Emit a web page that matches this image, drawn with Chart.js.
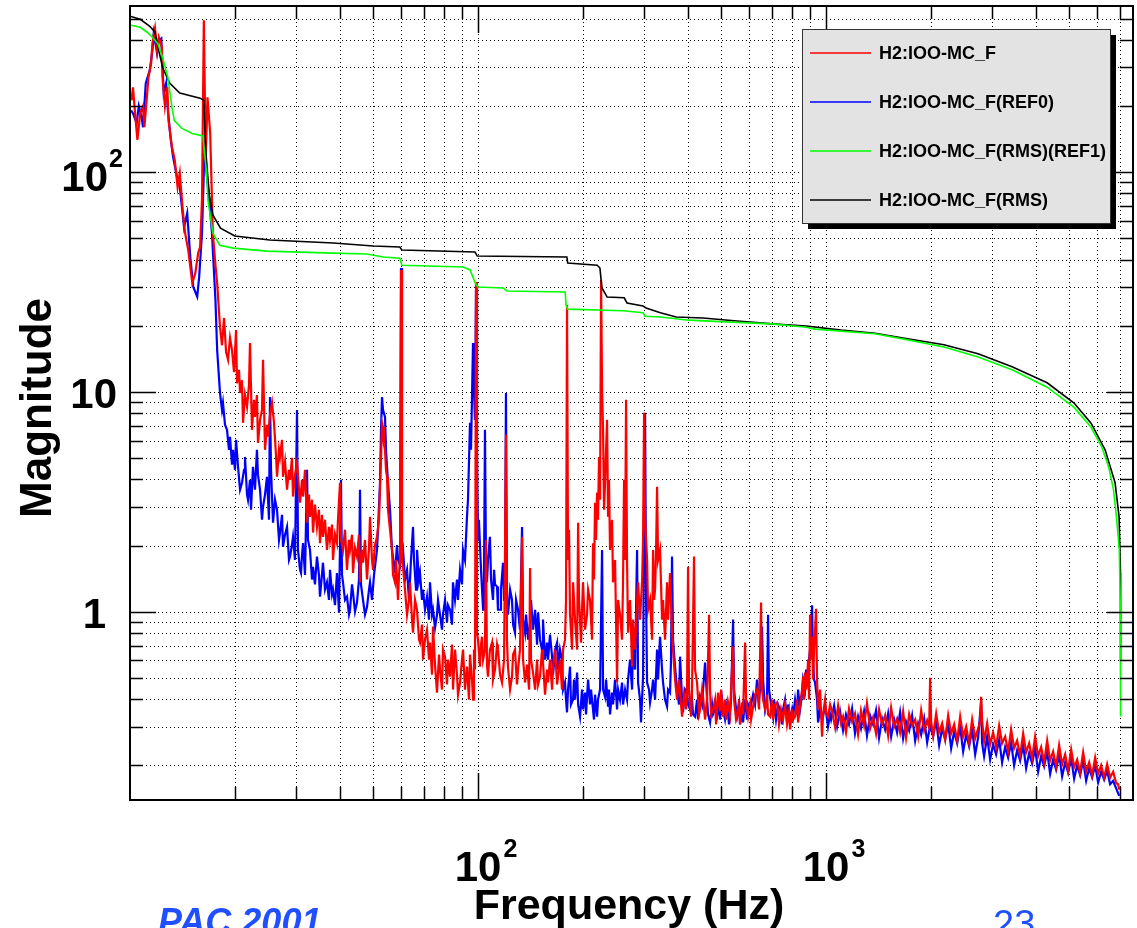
<!DOCTYPE html>
<html>
<head>
<meta charset="utf-8">
<script src="https://cdn.jsdelivr.net/npm/chart.js@4.4.1/dist/chart.umd.min.js"></script>
<style>
  html, body { margin: 0; padding: 0; background: #fff; }
  #wrap { width: 1137px; height: 928px; }
</style>
</head>
<body>
<div id="wrap"><canvas id="mag" width="1137" height="928"></canvas></div>
<script>
// series labels (legend order)
const seriesNames = ['H2:IOO-MC_F', 'H2:IOO-MC_F(REF0)', 'H2:IOO-MC_F(RMS)(REF1)', 'H2:IOO-MC_F(RMS)'];

// [frequency Hz, magnitude]
const redSpectrum = [
  [10.1,212],[10.2,243],[10.3,200],[10.5,140],[10.7,185],[10.9,200],[11.0,160],[11.3,270],[11.5,313],[11.6,386],
  [11.8,451],[11.96,359],[12.1,411],[12.35,370],[12.4,270],[12.6,200],[12.8,243],[12.9,172],[13.2,130],[13.45,113],
  [13.7,85.5],[13.9,99],[14.2,65],[14.4,52.8],[14.7,44.2],[15.1,31.3],[15.4,34.7],[15.7,42.8],[15.9,45.6],[16.1,74.6],
  [16.3,491],[16.5,113],[16.7,219],[17.0,150],[17.3,52.8],[17.6,37.8],[17.8,31.3],
  [18.14,19.7],[18.38,16.3],[18.63,21.7],[18.88,15.2],[19.13,14.0],[19.38,17.6],[19.64,15.5],[19.90,12.3],[20.17,19.1],[20.30,10.95],
  [20.57,12.6],[20.71,9.88],[20.98,11.3],[21.12,7.23],[21.40,9.68],[21.69,8.55],[21.97,10.7],[22.12,16.7],[22.41,6.72],[22.71,9.2],
  [22.86,7.69],[23.16,9.68],[23.32,5.86],[23.64,7.46],[23.95,8.28],[24.11,14.0],[24.43,5.45],[24.75,7.08],[24.92,6.25],[25.25,7.86],
  [25.59,8.92],[25.93,7.23],[26.27,5.17],[26.45,4.11],[26.80,5.45],[26.98,5.06],[27.34,6.05],[27.52,4.11],[27.89,4.81],[28.26,3.59],
  [28.63,4.42],[28.82,3.98],[29.20,5.01],[29.40,3.34],[29.79,4.19],[30.19,4.76],[30.59,3.59],[30.80,3.13],[31.21,3.98],[31.42,3.34],
  [31.83,4.42],[32.26,2.54],[32.68,3.41],[32.90,2.70],[33.34,3.23],[33.56,2.29],[34.00,3.07],[34.45,2.43],[34.91,2.91],[35.15,2.05],
  [35.61,2.76],[35.85,2.19],[36.33,2.62],[36.81,1.91],[37.30,2.43],[37.56,2.12],[38.06,2.49],[38.31,1.72],[38.82,2.24],[39.33,2.05],
  [39.59,2.62],[40.13,3.86],[40.39,2.12],[40.93,1.91],[41.47,2.36],[42.02,1.55],[42.58,2.12],[42.87,1.91],[43.44,2.24],[43.73,1.50],
  [44.31,1.95],[44.90,1.78],[45.49,2.24],[45.80,1.36],[46.41,1.91],[46.72,1.67],[47.34,2.12],[47.97,1.40],[48.61,1.95],[48.94,2.70],
  [49.59,1.72],[49.92,1.55],[50.58,2.01],[51.25,2.19],[51.93,2.62],[52.28,3.59],[52.63,4.91],[52.98,7.23],[53.33,6.93],[53.68,5.74],
  [54.04,5.45],[54.40,4.42],[54.76,4.11],[55.12,2.91],[55.86,2.36],[56.60,1.91],[56.98,1.47],[57.73,1.36],[58.12,1.72],[58.89,1.13],
  [59.28,1.47],[59.68,1.72],[60.08,35.9],[60.47,1.72],
  [60.88,1.60],[61.69,1.26],[62.51,0.968],[63.34,1.13],[63.76,1.36],[64.61,0.92],[65.04,0.802],[65.90,1.13],[66.78,1.02],[67.67,0.746],
  [68.12,0.723],[69.03,0.873],[69.49,0.605],[70.41,0.746],[71.35,0.828],[72.30,0.605],[72.78,0.723],[73.75,0.517],[74.24,0.855],[75.23,0.574],
  [76.23,0.428],[77.25,0.638],[77.76,0.545],[78.79,0.442],[79.31,0.672],[80.37,0.624],[81.44,0.466],[81.98,0.605],[83.08,0.506],[84.18,0.708],
  [84.74,0.442],[85.87,0.672],[87.01,0.517],[87.59,0.419],[88.76,0.476],[89.94,0.605],[90.54,0.672],[91.74,0.442],[92.96,0.562],[94.20,0.398],
  [94.83,0.638],[96.09,0.491],[96.73,0.398],[97.37,0.672],[98.02,0.545],[98.67,31.6],[99.32,0.802],
  [100.0,0.746],[101.3,0.562],[102.0,0.708],[102.7,0.769],[103.4,0.605],[104.7,0.672],[105.4,2.12],[106.1,0.574],[106.8,0.506],[108.2,0.672],
  [109.7,0.723],[110.4,0.491],[111.9,0.545],[113.4,0.708],[114.1,0.672],[115.7,0.517],[117.2,0.476],[118.8,0.605],[120.3,6.38],[121.1,0.746],
  [121.9,0.562],[123.6,0.442],[125.2,0.506],[126.1,0.638],[127.7,0.672],[129.4,0.466],[130.3,0.545],[132.0,0.672],[133.8,2.19],[134.7,0.605],
  [136.5,0.476],[138.3,0.574],[140.2,0.442],[141.1,1.58],[142.0,0.605],[143.9,0.528],[145.9,0.442],[147.8,0.605],[148.8,0.466],[150.7,0.506],
  [152.7,0.672],[153.7,0.586],[155.8,0.419],[157.9,0.545],[158.9,0.476],[161.0,0.605],[163.2,0.442],[164.3,0.562],[166.5,0.672],[168.7,0.466],
  [169.8,0.506],[172.0,0.605],[174.3,0.442],[175.5,0.672],[177.8,0.746],[179.0,1.13],[180.2,24.9],[181.4,1.72],[182.6,2.36],[183.8,0.968],
  [186.3,0.672],[187.5,1.36],[190.0,0.92],[192.6,0.672],[193.9,2.54],[195.1,1.13],[197.7,0.723],[199.0,1.02],[200.3,1.36],[203.0,0.828],
  [205.7,0.968],[207.1,1.26],[209.8,1.13],[212.6,0.746],[214.0,2.05],[215.4,1.40],[216.9,3.13],[218.3,2.12],[219.8,3.48],[221.2,2.62],
  [222.7,5.06],[224.2,3.23],[225.7,32.3],[227.2,10.2],[228.7,6.72],[230.2,2.91],[231.7,3.86],[233.3,5.45],[234.8,7.46],[236.4,2.70],
  [237.9,3.98],[239.5,1.91],[242.7,2.62],[244.3,1.36],[247.6,1.72],[250.9,0.476],[252.6,1.13],[255.9,0.968],[259.3,0.746],[261.0,1.36],
  [262.8,3.98],[264.5,1.72],[266.3,9.2],[268.0,1.72],[269.8,0.802],[273.4,1.13],[277.1,0.562],[278.9,0.92],[282.6,0.672],[286.4,1.13],
  [288.3,1.36],[292.1,0.92],[296.0,1.36],[298.0,2.12],[300.0,8.03],[302.0,2.62],[306.0,1.72],[308.0,1.02],[312.1,1.13],[316.3,0.746],
  [318.4,1.91],[320.5,1.13],[322.6,1.26],[324.8,1.91],[326.9,3.70],[329.1,1.72],[333.4,1.91],[337.9,0.92],[340.1,1.13],[344.6,0.746],
  [349.2,1.36],[351.6,0.92],[356.2,1.50],[360.9,0.828],[363.4,0.672],[368.2,0.491],[373.1,0.398],[378.0,0.491],[383.1,0.378],[385.7,0.333],
  [390.8,0.419],[396.0,0.359],[398.6,0.428],[401.3,1.60],[403.9,0.442],[409.3,0.333],[412.0,0.442],[417.5,1.78],[420.3,0.545],[425.9,0.476],
  [431.6,0.341],[434.5,0.359],[440.3,0.442],[443.2,0.41],[449.1,0.323],[455.1,0.398],[461.1,0.968],[464.2,0.442],[467.3,0.341],[473.5,0.359],
  [479.8,0.398],[483.0,0.307],[489.4,0.428],[495.9,0.352],[499.2,0.442],[505.9,0.333],[512.6,0.398],[516.0,0.323],[522.9,0.386],[529.9,0.341],
  [533.4,0.442],[540.5,0.694],[544.1,0.398],[551.4,0.323],[555.0,0.333],[562.4,0.398],[566.1,0.307],[573.7,0.386],[577.5,0.341],[585.2,0.723],
  [589.1,0.398],[597.0,0.333],[604.8,0.378],[608.9,0.323],[617.0,0.37],[625.2,0.419],[633.5,0.442],[642.0,0.359],[650.5,1.10],[654.8,0.442],
  [659.2,0.398],[668.0,0.359],[676.8,0.419],[681.3,0.341],[690.4,0.333],[699.6,0.398],[704.2,0.323],[713.6,0.378],[723.1,0.386],[732.7,0.307],
  [742.5,0.359],[752.4,0.323],[762.4,0.378],[772.5,0.307],[782.9,0.352],[788.1,0.291],[798.6,0.359],[803.9,0.323],[814.6,0.333],[825.4,0.398],
  [830.9,0.313],[842.0,0.378],[853.2,0.442],[858.9,0.506],[864.6,0.398],[870.3,0.528],[876.1,0.442],[881.9,0.476],[887.8,0.605],[893.7,0.398],
  [899.6,0.968],[905.6,0.605],[911.6,0.769],[917.6,0.491],[923.7,0.672],[936.0,1.03],[942.2,0.491],[948.5,0.359],[954.8,0.398],[961.1,0.442],
  [974.0,0.270],[980.4,0.341],[993.5,0.398],[1000,0.348],[1013,0.333],[1027,0.378],
  [1041,0.352],[1062,0.297],[1083,0.374],[1104,0.310],[1119,0.333],[1141,0.282],[1164,0.362],[1188,0.316],[1211,0.344],[1236,0.276],
  [1260,0.355],[1286,0.303],[1311,0.382],[1338,0.294],[1365,0.330],[1392,0.279],[1420,0.359],[1449,0.307],[1478,0.337],[1508,0.273],
  [1538,0.366],[1569,0.30],[1600,0.326],[1632,0.282],[1665,0.352],[1698,0.267],[1733,0.341],[1767,0.303],[1803,0.323],[1839,0.270],
  [1876,0.355],[1914,0.288],[1952,0.320],[1978,0.297],[1991,0.50],[2004,0.316],[2031,0.273],[2072,0.344],[2113,0.282],[2156,0.310],
  [2199,0.262],[2243,0.337],[2288,0.279],[2334,0.307],[2381,0.259],[2428,0.333],[2477,0.270],[2527,0.30],[2577,0.252],[2629,0.323],
  [2682,0.265],[2735,0.294],[2771,0.316],[2790,0.41],[2808,0.320],[2845,0.257],[2903,0.310],[2961,0.249],[3020,0.282],[3081,0.242],
  [3143,0.303],[3205,0.252],[3270,0.270],[3336,0.231],[3402,0.291],[3470,0.239],[3540,0.259],[3611,0.222],[3684,0.279],[3757,0.229],
  [3833,0.252],[3910,0.215],[3988,0.270],[4068,0.220],[4150,0.242],[4233,0.206],[4318,0.259],[4404,0.210],[4492,0.231],[4582,0.198],
  [4674,0.247],[4768,0.202],[4864,0.224],[4961,0.189],[5061,0.236],[5162,0.196],[5266,0.212],[5371,0.185],[5479,0.229],[5589,0.187],
  [5701,0.206],[5815,0.180],[5932,0.217],[6050,0.183],[6172,0.200],[6296,0.176],[6422,0.202],[6550,0.176],[6682,0.187],[6816,0.166],
  [6907,0.164],[6953,0.155]
];

const blueSpectrum = [
  [10.07,191],[10.2,185],[10.45,167],[10.6,200],[10.8,178],[10.9,160],[11.1,254],[11.4,291],[11.6,359],[11.7,428],
  [11.96,348],[12.1,398],[12.3,406],[12.4,300],[12.5,229],[12.7,254],[12.85,191],[13.1,140],[13.3,117],[13.65,95],
  [13.9,86],[14.1,69.3],[14.3,56.2],[14.6,65.1],[14.9,41.1],[15.2,30.0],[15.6,27.1],[15.8,33.3],[16.1,52.8],[16.4,140],
  [16.6,99],[16.9,74.6],[17.2,52.8],[17.6,26.2],[17.8,15.5],
  [18.14,9.88],[18.38,8.28],[18.50,8.92],[18.75,7.08],[19.00,6.72],[19.25,5.45],[19.38,6.25],[19.64,4.66],[19.77,5.45],[20.03,4.42],
  [20.17,6.05],[20.44,4.56],[20.71,3.59],[20.98,3.86],[21.26,4.42],[21.40,5.06],[21.69,3.41],[21.83,3.23],[22.12,3.98],[22.27,2.91],
  [22.56,4.56],[22.86,3.59],[23.16,5.45],[23.32,4.19],[23.64,3.59],[23.95,2.62],[24.11,3.00],[24.43,3.41],[24.75,4.11],[25.08,2.62],
  [25.25,9.48],[25.42,4.42],[25.76,2.54],[26.10,3.23],[26.45,2.91],[26.80,2.12],[26.98,2.29],[27.34,2.76],[27.52,1.97],[27.89,2.24],
  [28.26,2.43],[28.63,1.72],[28.82,1.78],[29.20,2.01],[29.40,2.19],[29.79,1.72],[30.19,8.28],[30.39,1.91],[30.80,1.55],[31.00,1.50],
  [31.21,1.81],[31.42,2.05],[31.83,1.47],[32.26,4.42],[32.47,2.12],[32.90,1.91],[33.34,1.40],[33.56,1.60],[34.00,1.33],[34.45,1.78],
  [34.91,1.47],[35.15,1.17],[35.61,1.47],[35.85,1.67],[36.33,1.26],[36.81,1.36],[37.30,1.13],[37.56,1.55],[38.06,1.20],[38.31,1.26],
  [38.82,1.07],[39.33,1.50],[39.86,0.99],[40.39,3.98],[40.66,1.47],[40.93,1.36],[41.47,1.13],[42.02,1.17],[42.58,0.97],[42.87,1.02],
  [43.44,1.33],[43.73,1.22],[44.31,1.00],[44.90,1.10],[45.49,1.40],[45.80,3.59],[46.10,1.33],[46.72,1.13],[47.34,0.97],[47.97,1.05],
  [48.61,1.26],[48.94,1.36],[49.59,1.13],[50.25,1.47],[51.25,1.91],[51.59,2.36],[52.28,3.86],[52.63,6.72],[52.98,9.48],[53.33,8.28],
  [54.04,7.69],[54.40,5.45],[55.12,3.86],[55.86,2.91],[56.60,1.91],[57.35,1.63],[57.73,1.50],[58.50,2.01],[58.89,1.72],[59.68,1.63],
  [60.08,36.6],[60.47,1.81],
  [60.88,1.91],[61.69,1.40],[62.51,1.55],[63.34,1.13],[64.18,1.72],[65.04,2.43],[65.47,1.72],[66.34,1.26],[66.78,1.91],[67.67,1.40],
  [68.12,1.50],[69.03,1.13],[69.49,1.26],[70.41,1.02],[71.35,1.17],[72.30,0.92],[72.78,1.36],[73.75,0.97],[74.24,1.02],[75.23,0.846],
  [76.23,0.968],[76.74,1.13],[77.76,0.97],[78.79,0.828],[79.31,0.968],[80.37,1.13],[81.44,0.892],[81.98,1.07],[83.08,1.02],[84.18,0.873],
  [84.74,1.36],[85.87,1.13],[87.01,1.40],[87.59,1.13],[88.76,1.55],[89.94,1.33],[90.54,1.91],[91.74,1.72],[92.96,2.70],[93.58,3.23],
  [94.83,7.23],[95.46,5.45],[96.73,16.7],[97.37,10.2],[98.02,7.46],[98.67,29.1],[99.32,5.45],
  [100.0,2.12],[100.6,2.62],[102.0,1.55],[102.7,1.26],[103.4,1.02],[104.0,1.40],[104.7,6.72],[105.4,1.72],[106.1,1.36],[106.8,1.72],
  [108.2,2.19],[109.0,1.40],[110.4,1.13],[111.2,1.55],[111.9,1.33],[113.4,1.30],[114.1,1.02],[115.7,1.02],[116.4,1.26],[118.0,1.67],
  [118.8,1.13],[119.5,1.26],[120.3,9.88],[121.1,1.13],[121.9,0.968],[123.6,1.26],[125.2,1.13],[126.1,0.873],[127.7,0.802],[128.6,1.13],
  [130.3,1.02],[132.0,0.828],[133.8,2.43],[134.7,0.92],[136.5,0.802],[137.4,0.97],[139.3,0.746],[141.1,0.892],[142.0,1.13],[143.9,0.828],
  [145.9,1.02],[147.8,0.708],[148.8,0.99],[150.7,0.746],[152.7,0.672],[153.7,0.92],[155.8,0.605],[157.9,0.723],[158.9,0.605],[161.0,0.786],
  [163.2,0.624],[164.3,0.517],[166.5,0.672],[168.7,0.723],[169.8,0.545],[172.0,0.672],[174.3,0.605],[175.5,0.442],[177.8,0.476],[179.0,0.398],
  [180.2,0.348],[181.4,0.442],[183.8,0.562],[185.0,0.378],[187.5,0.398],[188.7,0.491],[190.0,0.398],[192.6,0.528],[193.9,0.378],[196.4,0.333],
  [199.0,0.442],[200.3,0.359],[203.0,0.428],[204.3,0.341],[207.1,0.491],[209.8,0.378],[211.2,0.442],[212.6,0.398],[215.4,0.323],[216.9,0.419],
  [219.8,0.333],[221.2,0.398],[224.2,0.442],[227.2,1.91],[228.7,0.442],[231.7,0.41],[233.3,0.491],[236.4,0.37],[237.9,0.442],[239.5,0.341],
  [242.7,0.428],[244.3,0.378],[247.6,0.491],[250.9,0.359],[252.6,0.442],[255.9,0.398],[259.3,0.476],[261.0,0.378],[264.5,0.442],[268.0,0.398],
  [269.8,0.491],[273.4,0.605],[277.1,0.442],[278.9,0.723],[282.6,0.545],[286.4,1.91],[288.3,0.476],[292.1,0.398],[294.0,0.313],[296.0,0.398],
  [298.0,0.506],[300.0,2.62],[302.0,8.03],[304.0,1.13],[306.0,0.476],[310.0,0.442],[312.1,0.386],[316.3,0.442],[318.4,0.491],[322.6,0.398],
  [326.9,0.672],[329.1,0.491],[333.4,0.769],[337.9,0.545],[340.1,0.476],[344.6,0.398],[349.2,0.37],[351.6,0.442],[356.2,0.428],[358.6,0.605],
  [360.9,1.78],[363.4,0.746],[368.2,0.562],[373.1,0.442],[378.0,0.378],[380.6,0.624],[385.7,0.398],[388.2,0.348],[393.4,0.442],[398.6,0.428],
  [401.3,0.378],[406.6,0.359],[412.0,0.398],[414.7,0.341],[420.3,0.333],[425.9,0.398],[428.7,0.323],[434.5,0.41],[440.3,0.378],[443.2,0.442],
  [449.1,0.586],[455.1,0.398],[458.1,0.341],[464.2,0.313],[470.4,0.378],[473.5,0.341],[479.8,0.359],[486.2,0.333],[492.7,0.378],[495.9,0.323],
  [502.5,0.398],[505.9,0.359],[512.6,0.323],[519.4,0.378],[526.3,0.307],[533.4,0.398],[540.5,0.92],[544.1,0.442],[551.4,0.359],[555.0,0.333],
  [562.4,0.378],[566.1,0.307],[573.7,0.359],[577.5,0.313],[585.2,0.398],[593.0,0.323],[597.0,0.378],[604.8,0.359],[612.9,0.398],[617.0,0.419],
  [625.2,0.378],[633.5,0.491],[642.0,0.398],[646.2,0.442],[654.8,0.855],[659.2,0.491],[668.0,0.359],[676.8,0.398],[681.3,0.968],[685.8,0.442],
  [694.9,0.378],[704.2,0.333],[708.9,0.398],[718.3,0.323],[727.9,0.378],[737.6,0.359],[747.4,0.307],[752.4,0.359],[762.4,0.398],[772.5,0.313],
  [777.7,0.378],[788.1,0.323],[798.6,0.359],[803.9,0.333],[814.6,0.398],[825.4,0.341],[830.9,0.442],[842.0,0.359],[853.2,0.419],[858.9,0.491],
  [870.3,0.442],[876.1,0.545],[881.9,0.476],[893.7,0.605],[899.6,0.672],[905.6,0.746],[911.6,1.07],[917.6,0.605],[923.7,0.491],[929.8,0.476],
  [942.2,0.398],[948.5,0.313],[961.1,0.359],[974.0,0.323],[980.4,0.333],[993.5,0.378],[1007,0.323],[1013,0.30],[1027,0.341],
  [1034,0.323],[1055,0.374],[1076,0.30],[1097,0.352],[1119,0.288],[1141,0.341],[1164,0.307],[1188,0.362],[1211,0.279],[1236,0.333],
  [1260,0.294],[1286,0.352],[1311,0.273],[1338,0.337],[1365,0.307],[1392,0.355],[1420,0.267],[1449,0.326],[1478,0.291],[1508,0.344],
  [1538,0.270],[1569,0.323],[1600,0.282],[1632,0.348],[1665,0.265],[1698,0.316],[1733,0.288],[1767,0.337],[1803,0.259],[1839,0.310],
  [1876,0.276],[1914,0.326],[1952,0.254],[1991,0.303],[2031,0.270],[2072,0.320],[2113,0.247],[2156,0.294],[2199,0.262],[2243,0.310],
  [2288,0.239],[2334,0.285],[2381,0.252],[2428,0.30],[2477,0.231],[2527,0.276],[2577,0.244],[2629,0.291],[2682,0.224],[2735,0.267],
  [2790,0.391],[2808,0.252],[2845,0.220],[2903,0.270],[2961,0.212],[3020,0.249],[3081,0.224],[3143,0.262],[3205,0.206],[3270,0.242],
  [3336,0.217],[3402,0.254],[3470,0.200],[3540,0.234],[3611,0.210],[3684,0.247],[3757,0.194],[3833,0.227],[3910,0.204],[3988,0.239],
  [4068,0.187],[4150,0.220],[4233,0.198],[4318,0.231],[4404,0.183],[4492,0.212],[4582,0.191],[4674,0.224],[4768,0.178],[4864,0.206],
  [4961,0.185],[5061,0.217],[5162,0.174],[5266,0.200],[5371,0.180],[5479,0.210],[5589,0.170],[5701,0.194],[5815,0.176],[5932,0.200],
  [6050,0.167],[6172,0.187],[6296,0.172],[6422,0.189],[6550,0.164],[6682,0.170],[6816,0.157],[6953,0.145]
];

const greenRms = [
  [10.07,466],[10.7,456],[11.2,433],[11.6,411],[12.0,386],[12.4,333],[12.85,270],[13.2,197],[13.4,172],[14.1,158],
  [15.1,150],[16.2,146],[16.6,99],[16.75,74.6],[17.3,52.8],[18.1,46.5],[19.8,45.1],[24.7,43.7],[38.4,42.8],[47.9,42.4],
  [53.3,41.1],[59.6,40.6],[60.4,37.7],[90.6,37.0],[94.9,35.9],[98.1,31.3],[100,30.0],[118,29.7],[121,28.8],[178,28.5],
  [179,24.9],[181,23.8],[261,23.4],[298,22.9],[302,22.1],[334,21.9],[403,21.2],[594,20.6],[700,20.4],[877,19.7],
  [928,19.3],[1105,18.9],[1383,18.4],[1732,17.2],[2182,16.0],[2734,14.4],[3424,12.6],[4317,10.5],[5160,8.5],[5774,6.9],
  [6202,5.6],[6485,4.56],[6700,3.58],[6830,2.7],[6960,1.91],[7000,1.13],[7020,0.333]
];

const blackRms = [
  [10.0,512],[10.7,496],[11.4,461],[11.8,433],[12.0,378],[12.4,300],[13.0,254],[13.9,229],[15.9,217],[16.3,212],
  [16.5,126],[16.9,78.6],[17.3,63.8],[18.2,55.6],[20.0,51.2],[25.2,49.1],[38.4,47.6],[50.0,46.1],[59.6,45.6],[60.4,44.2],
  [98.0,43.3],[99.5,41.5],[180,41.1],[181,38.6],[220,37.7],[224,36.6],[227,29.7],[235,27.0],[263,26.8],[268,25.4],
  [298,24.6],[304,24.1],[334,22.9],[371,21.9],[443,21.7],[555,21.0],[700,20.4],[877,19.95],[1105,19.1],[1383,18.5],
  [1732,17.4],[2182,16.4],[2734,14.9],[3424,13.0],[4317,11.0],[5160,8.9],[5774,7.2],[6335,5.45],[6768,3.86],[6950,2.7],
  [7015,1.5],[7020,0.6]
];

// axis ranges, grid values and tick labels
const xRange = [10, 7620];
const yRange = [0.139, 570];
const gridX = [20,30,40,50,60,70,80,90,100,200,300,400,500,600,700,800,900,1000,2000,3000,4000,5000,6000,7000];
const gridY = [0.2,0.3,0.4,0.5,0.6,0.7,0.8,0.9,1,2,3,4,5,6,7,8,9,10,20,30,40,50,60,70,80,90,100,200,300,400,500];
const xTickText = [[100, '10', '2'], [1000, '10', '3']];
const yTickText = [[1, '1', ''], [10, '10', ''], [100, '10', '2']];

const FONT = '"Liberation Sans", Arial, Helvetica, sans-serif';

function isDecade(v) {
  const l = Math.log10(v);
  return Math.abs(l - Math.round(l)) < 1e-9;
}

const rootStyle = {
  id: 'rootStyle',
  beforeDatasetsDraw(chart) {
    const { ctx, chartArea: a, scales } = chart;
    ctx.save();
    ctx.strokeStyle = '#000';
    ctx.lineWidth = 1;
    ctx.setLineDash([1, 3]);
    ctx.beginPath();
    gridX.forEach(v => {
      const px = Math.round(scales.x.getPixelForValue(v)) + 0.5;
      ctx.moveTo(px, a.top); ctx.lineTo(px, a.bottom);
    });
    gridY.forEach(v => {
      const py = Math.round(scales.y.getPixelForValue(v)) + 0.5;
      ctx.moveTo(a.left, py); ctx.lineTo(a.right, py);
    });
    ctx.stroke();
    ctx.restore();
  },
  afterDatasetsDraw(chart) {
    const { ctx, chartArea: a, scales } = chart;
    ctx.save();
    ctx.strokeStyle = '#000';
    ctx.lineWidth = 1.5;
    ctx.beginPath();
    gridX.forEach(v => {
      const px = Math.round(scales.x.getPixelForValue(v)) + 0.5;
      const len = isDecade(v) ? 27 : 13;
      ctx.moveTo(px, a.bottom); ctx.lineTo(px, a.bottom - len);
      ctx.moveTo(px, a.top); ctx.lineTo(px, a.top + len);
    });
    gridY.forEach(v => {
      const py = Math.round(scales.y.getPixelForValue(v)) + 0.5;
      const len = isDecade(v) ? 26 : 13;
      ctx.moveTo(a.left, py); ctx.lineTo(a.left + len, py);
      ctx.moveTo(a.right, py); ctx.lineTo(a.right - len, py);
    });
    ctx.stroke();
    ctx.lineWidth = 2;
    ctx.strokeRect(a.left, a.top, a.right - a.left, a.bottom - a.top);
    ctx.restore();
  },
  afterDraw(chart) {
    const { ctx, scales } = chart;
    ctx.save();
    ctx.fillStyle = '#000';
    ctx.textBaseline = 'alphabetic';

    // y tick labels
    yTickText.forEach(([v, base, exp]) => {
      const py = scales.y.getPixelForValue(v);
      ctx.font = 'bold 42px ' + FONT;
      if (exp) {
        ctx.textAlign = 'right';
        ctx.fillText(base, 108, py + 19);
        ctx.font = 'bold 25px ' + FONT;
        ctx.textAlign = 'left';
        ctx.fillText(exp, 109, py - 5);
      } else {
        ctx.textAlign = 'right';
        ctx.fillText(base, v === 1 ? 106 : 117, py + 16);
      }
    });

    // x tick labels
    xTickText.forEach(([v, base, exp]) => {
      const px = scales.x.getPixelForValue(v);
      ctx.font = 'bold 42px ' + FONT;
      ctx.textAlign = 'center';
      ctx.fillText(base, px, 881);
      const w = ctx.measureText(base).width;
      ctx.font = 'bold 25px ' + FONT;
      ctx.textAlign = 'left';
      ctx.fillText(exp, px + w / 2 + 2, 857);
    });

    // axis titles
    ctx.font = 'bold 43px ' + FONT;
    ctx.textAlign = 'center';
    ctx.fillText('Frequency (Hz)', 629, 919);
    ctx.save();
    ctx.translate(51, 408);
    ctx.rotate(-Math.PI / 2);
    ctx.font = 'bold 44px ' + FONT;
    ctx.fillText('Magnitude', 0, 0);
    ctx.restore();

    // footer
    ctx.fillStyle = '#1f4fff';
    ctx.textAlign = 'left';
    ctx.font = 'italic bold 36px ' + FONT;
    ctx.fillText('PAC 2001', 158, 934);
    ctx.font = '38px ' + FONT;
    ctx.fillText('23', 993, 937);

    // legend box
    const lx = 802, ly = 29, lw = 308, lh = 194;
    ctx.fillStyle = '#000';
    ctx.fillRect(lx + 6, ly + 6, lw, lh);
    ctx.fillStyle = '#e3e3e3';
    ctx.fillRect(lx, ly, lw, lh);
    ctx.strokeStyle = '#333';
    ctx.lineWidth = 1;
    ctx.strokeRect(lx + 0.5, ly + 0.5, lw, lh);
    const legendColors = ['#ff0000', '#0000ff', '#00ff00', '#000000'];
    ctx.font = 'bold 18px ' + FONT;
    ctx.textBaseline = 'middle';
    seriesNames.forEach((name, i) => {
      const yy = 53 + i * 49;
      ctx.strokeStyle = legendColors[i];
      ctx.lineWidth = 1.5;
      ctx.beginPath();
      ctx.moveTo(810, yy); ctx.lineTo(871, yy);
      ctx.stroke();
      ctx.fillStyle = '#000';
      ctx.fillText(name, 879, yy + 1);
    });
    ctx.restore();
  }
};

function series(label, pts, color, width) {
  return {
    label,
    data: pts.map(([x, y]) => ({ x, y })),
    borderColor: color,
    backgroundColor: color,
    borderWidth: width,
    pointRadius: 0,
    fill: false,
    tension: 0
  };
}

const chart = new Chart(document.getElementById('mag'), {
  type: 'line',
  data: {
    datasets: [
      series(seriesNames[2], greenRms, '#00ff00', 1.6),
      series(seriesNames[3], blackRms, '#000000', 1.6),
      series(seriesNames[0], redSpectrum, '#ff0000', 2.2),
      series(seriesNames[1], blueSpectrum, '#0000ff', 2.2)
    ]
  },
  options: {
    responsive: false,
    devicePixelRatio: 1,
    animation: false,
    layout: { padding: { left: 130, right: 4, top: 6, bottom: 128 } },
    plugins: { legend: { display: false }, tooltip: { enabled: false } },
    scales: {
      x: { type: 'logarithmic', min: xRange[0], max: xRange[1], display: false },
      y: { type: 'logarithmic', min: yRange[0], max: yRange[1], display: false }
    }
  },
  plugins: [rootStyle]
});
</script>
</body>
</html>
